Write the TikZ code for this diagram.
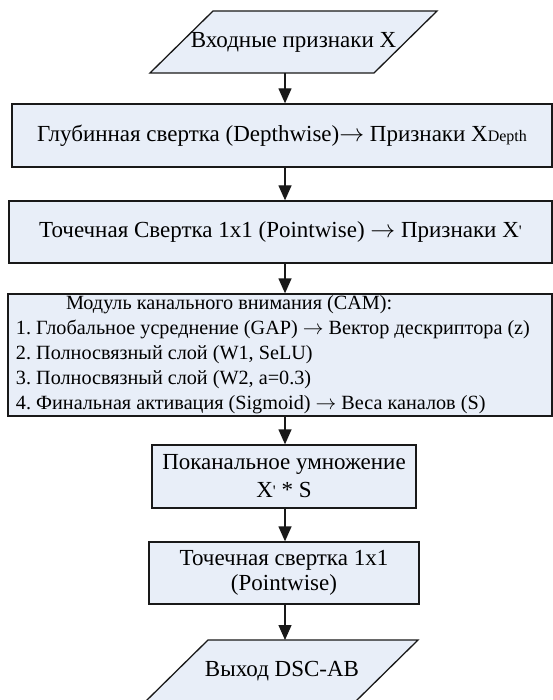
\documentclass[tikz,border=0pt]{standalone}
\usepackage{fontspec}
\setmainfont{Liberation Serif}[Ligatures=TeXOff]
\usetikzlibrary{arrows.meta}
\definecolor{boxfill}{RGB}{232,238,248}
\definecolor{edge}{RGB}{25,25,25}
\newcommand\fs{\fontsize{23}{25}\selectfont}
\newcommand\fsm{\fontsize{20.2}{25}\selectfont}
\newcommand\smalltick{{\fontsize{16}{16}\selectfont\raisebox{1pt}{'}}}
\newcommand\arrw{\ensuremath{\rightarrow}}
\begin{document}
\begin{tikzpicture}[x=1pt,y=-1pt,
  box/.style={draw=edge, fill=boxfill, line width=1.3pt, inner sep=0pt, align=center, font=\fs},
  para/.style={draw=edge, fill=boxfill, line width=1.3pt, line join=miter},
  lbl/.style={inner sep=0pt, font=\fs, align=center},
  arr/.style={-{Triangle[length=15pt,width=13pt]}, line width=1.3pt, draw=edge}]
\useasboundingbox (0,0) rectangle (553,700);
\clip (0,0) rectangle (553,700);

% input parallelogram
\coordinate (p1tl) at (213,11);
\coordinate (p1tr) at (437,11);
\coordinate (p1br) at (374,73);
\coordinate (p1bl) at (150,73);
\draw[para] (p1tl) -- (p1tr) -- (p1br) -- (p1bl) -- cycle;
\node[lbl] (p1) at (293.5,42) {Входные признаки X};

% boxes
\node[box, minimum width=540pt, minimum height=63pt] (b2) at (282,135.5)
  {Глубинная свертка (Depthwise)\arrw{} Признаки X{\fontsize{16}{16}\selectfont Depth}};
\node[box, minimum width=543pt, minimum height=62pt] (b3) at (280.5,232)
  {Точечная Свертка 1x1 (Pointwise) \arrw{} Признаки X\smalltick};
\node[box, font=\fsm, minimum width=544pt, minimum height=122pt, text width=528pt, align=flush left] (b4) at (280,355)
  {\hspace*{50pt}Модуль канального внимания (CAM):\\
   1.\ Глобальное усреднение (GAP) \arrw{} Вектор дескриптора (z)\\
   2.\ Полносвязный слой (W1, SeLU)\\
   3.\ Полносвязный слой (W2, a=0.3)\\
   4.\ Финальная активация (Sigmoid) \arrw{} Веса каналов (S)};
\node[box, minimum width=264pt, minimum height=63pt] (b5) at (284,476.5)
  {Поканальное умножение\\[3pt] X\smalltick{} * S};
\node[box, minimum width=270pt, minimum height=62pt] (b6) at (284,573)
  {Точечная свертка 1x1\\ (Pointwise)};

% output parallelogram
\coordinate (p2tl) at (208,640);
\coordinate (p2tr) at (418,640);
\coordinate (p2br) at (355,702);
\coordinate (p2bl) at (145,702);
\draw[para] (p2tl) -- (p2tr) -- (p2br) -- (p2bl) -- cycle;
\node[lbl] (p2) at (282,671) {Выход DSC-AB};

% connectors
\coordinate (ax) at (285,0);
\draw[arr] (ax |- p1bl) -- (ax |- b2.north);
\draw[arr] (ax |- b2.south) -- (ax |- b3.north);
\draw[arr] (ax |- b3.south) -- (ax |- b4.north);
\draw[arr] (ax |- b4.south) -- (ax |- b5.north);
\draw[arr] (ax |- b5.south) -- (ax |- b6.north);
\draw[arr] (ax |- b6.south) -- (ax |- p2tl);
\end{tikzpicture}
\end{document}
